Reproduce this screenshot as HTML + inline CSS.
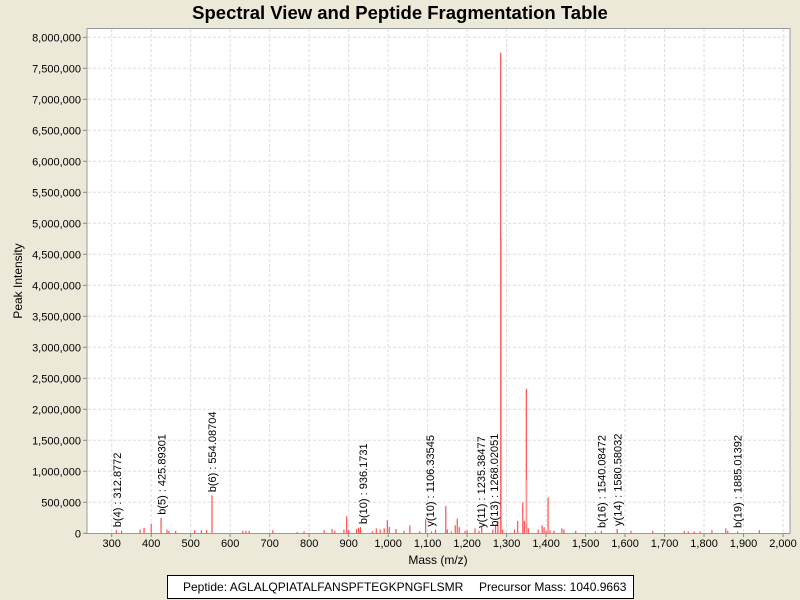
<!DOCTYPE html>
<html><head><meta charset="utf-8"><style>
html,body{margin:0;padding:0;background:#ece9d8;}
svg{display:block;font-family:"Liberation Sans",sans-serif;}
</style></head><body>
<svg id="chart" width="800" height="600" xmlns="http://www.w3.org/2000/svg">
<rect width="800" height="600" fill="#ece9d8"/>
<text x="400" y="19" text-anchor="middle" font-size="18.5" font-weight="bold" fill="#000">Spectral View and Peptide Fragmentation Table</text>
<rect x="87" y="28.5" width="703" height="505" fill="#fff" stroke="#999"/>
<g id="grid"></g><g id="bars"></g><g id="annots"></g><g id="axes"></g>
<text x="438" y="564" text-anchor="middle" font-size="12">Mass (m/z)</text>
<text transform="translate(22,281) rotate(-90)" text-anchor="middle" font-size="12">Peak Intensity</text>
<rect x="167.5" y="575.5" width="466" height="23" fill="#fff" stroke="#000"/>
<text x="183" y="591" font-size="12">Peptide: AGLALQPIATALFANSPFTEGKPNGFLSMR</text>
<text x="479" y="591" font-size="12">Precursor Mass: 1040.9663</text>
</svg>
<script>
const xTicks=[300,400,500,600,700,800,900,1000,1100,1200,1300,1400,1500,1600,1700,1800,1900,2000];
const yTicks=[0,500000,1000000,1500000,2000000,2500000,3000000,3500000,4000000,4500000,5000000,5500000,6000000,6500000,7000000,7500000,8000000];
const peakMz=[312,325,372,382,400,425,440,445,462,510,527,540,554,632,640,648,708,770,787,838,858,865,888,895,900,920,925,930,960,970,980,990,998,1003,1020,1040,1055,1080,1095,1110,1120,1146,1150,1160,1170,1175,1180,1195,1200,1220,1230,1237,1265,1272,1278,1285,1287,1290,1320,1328,1341,1345,1350,1351,1355,1380,1390,1395,1400,1405,1410,1420,1440,1445,1475,1525,1540,1580,1615,1670,1750,1760,1775,1790,1820,1855,1860,1885,1940];
const peakInt=[50000,45000,60000,90000,155000,247000,60000,40000,40000,50000,50000,50000,613000,40000,40000,40000,50000,20000,30000,50000,70000,40000,60000,274000,50000,70000,90000,100000,30000,80000,60000,80000,210000,100000,70000,40000,130000,30000,225000,30000,60000,440000,60000,30000,130000,237000,100000,40000,50000,80000,40000,100000,60000,130000,200000,7750000,4750000,60000,60000,200000,500000,200000,2330000,850000,80000,60000,130000,100000,40000,580000,50000,40000,80000,60000,40000,30000,40000,70000,40000,40000,40000,30000,30000,30000,50000,80000,40000,30000,50000];
const annLabels=["b(4) : 312.8772","b(5) : 425.89301","b(6) : 554.08704","b(10) : 936.1731","y(10) : 1106.33545","y(11) : 1235.38477","b(13) : 1268.02051","b(16) : 1540.08472","y(14) : 1580.58032","b(19) : 1885.01392"];
const annMz=[312.8772,425.89301,554.08704,936.1731,1106.33545,1235.38477,1268.02051,1540.08472,1580.58032,1885.01392];
const annInt=[50000,250000,613000,100000,60000,40000,60000,30000,70000,30000];
const NS="http://www.w3.org/2000/svg";
const X=m=>111.7+(m-300)*0.3949;
const Y=v=>533.3-v*62/1000000;
function mk(t,a,p){const e=document.createElementNS(NS,t);for(const k in a)e.setAttribute(k,a[k]);document.getElementById(p).appendChild(e);return e;}
const fmt=v=>v.toLocaleString('en-US');
xTicks.forEach(t=>{
 const g=mk('line',{x1:X(t),x2:X(t),y1:29,y2:533,stroke:'#ddd','stroke-dasharray':'3,2'},'grid');
 
 
 const tk=mk('line',{x1:X(t),x2:X(t),y1:533.5,y2:537,stroke:'#888'},'axes');
 
 
 const l=mk('text',{x:X(t),y:547,'text-anchor':'middle','font-size':11},'axes');l.textContent=fmt(t);
 
 
});
yTicks.forEach(t=>{
 if(t>0){const g=mk('line',{x1:88,x2:790,y1:Y(t),y2:Y(t),stroke:'#ddd','stroke-dasharray':'3,2'},'grid');
 
 }
 const tk=mk('line',{x1:83,x2:87,y1:Y(t),y2:Y(t),stroke:'#888'},'axes');
 
 
 const l=mk('text',{x:81,y:Y(t)+4,'text-anchor':'end','font-size':11},'axes');l.textContent=fmt(t);
 
 
});
peakMz.forEach((m,i)=>{
 const light=(m===1287||m===1351);
 const b=mk('rect',{x:X(m)-0.6,y:Y(peakInt[i]),width:1.2,height:533.3-Y(peakInt[i]),fill:light?'#ff9c9c':'#ff5050'},'bars');
 
 
});
annMz.forEach((m,i)=>{
 const y0=Math.min(528,Y(annInt[i])-3);
 const t=mk('text',{transform:`translate(${X(m)+4},${y0}) rotate(-90)`,'font-size':11},'annots');
 t.textContent=annLabels[i];
 
 
});
</script>
</body></html>
